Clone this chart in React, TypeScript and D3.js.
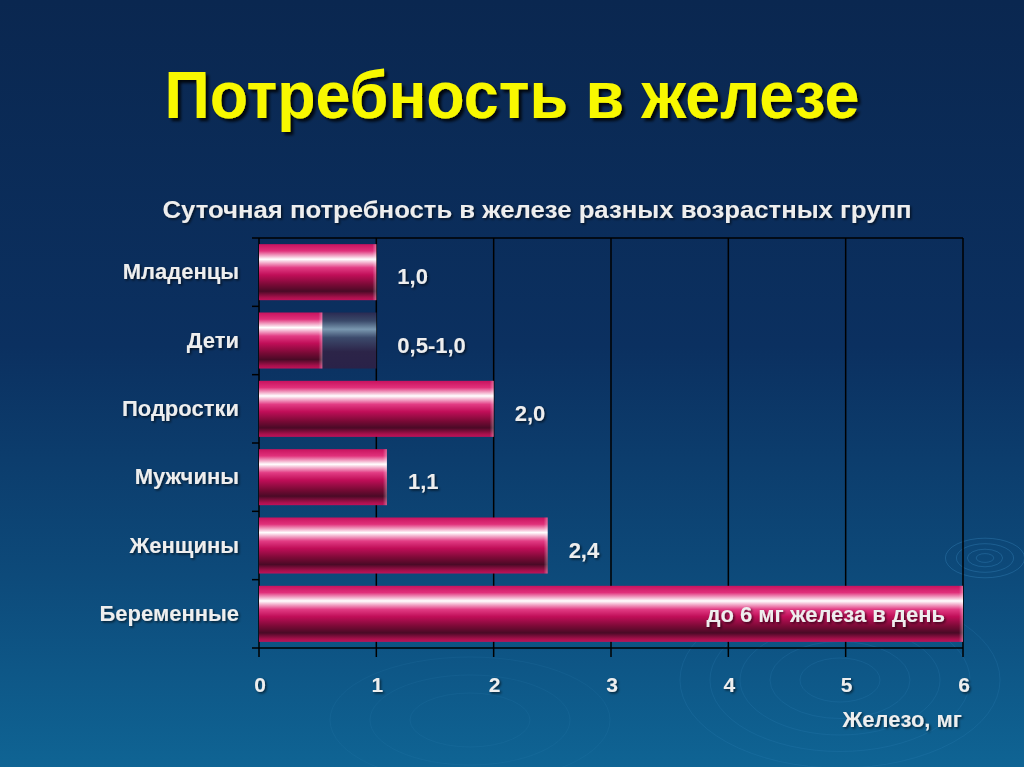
import React from "react";
import * as d3 from "d3";

const categories = ["Младенцы", "Дети", "Подростки", "Мужчины", "Женщины", "Беременные"];
const values = [1.0, 0.54, 2.0, 1.09, 2.46, 6];
const rangeEnds = [null, 1.0, null, null, null, null];
const valueLabels = ["1,0", "0,5-1,0", "2,0", "1,1", "2,4", "до 6 мг железа в день"];
const xTicks = [0, 1, 2, 3, 4, 5, 6];

const W = 1024;
const H = 767;
const left = 259;
const right = 963;
const top = 238;
const bottom = 648;

export default function App() {
  const x = d3.scaleLinear().domain([0, 6]).range([left, right]);
  const y = d3.scaleBand<string>().domain(categories).range([top, bottom]).paddingInner(0.18).paddingOuter(0.09);
  const step = y.step();
  const font = "'Liberation Sans', Arial, sans-serif";
  const labelColor = "#eeeeee";

  return (
    <svg width={W} height={H} style={{ position: "absolute", left: 0, top: 0 }} xmlns="http://www.w3.org/2000/svg">
      <defs>
        <linearGradient id="bg" x1="0" y1="0" x2="0" y2="1">
          <stop offset="0" stopColor="#0a2750" />
          <stop offset="0.45" stopColor="#0b3060" />
          <stop offset="0.75" stopColor="#0d4a7a" />
          <stop offset="1" stopColor="#0f6494" />
        </linearGradient>
        <linearGradient id="bar" x1="0" y1="0" x2="0" y2="1">
          <stop offset="0" stopColor="#c8125e" />
          <stop offset="0.12" stopColor="#e0307a" />
          <stop offset="0.27" stopColor="#ffffff" />
          <stop offset="0.42" stopColor="#e23c84" />
          <stop offset="0.55" stopColor="#c00e58" />
          <stop offset="0.72" stopColor="#7a0a36" />
          <stop offset="0.84" stopColor="#4a0a26" />
          <stop offset="0.95" stopColor="#a8104c" />
          <stop offset="1" stopColor="#c0125a" />
        </linearGradient>
        <linearGradient id="ghost" x1="0" y1="0" x2="0" y2="1">
          <stop offset="0" stopColor="#2a2a52" />
          <stop offset="0.15" stopColor="#3a4a6a" />
          <stop offset="0.3" stopColor="#7a98b0" />
          <stop offset="0.45" stopColor="#3c4a6c" />
          <stop offset="0.7" stopColor="#2c2448" />
          <stop offset="1" stopColor="#2a2248" />
        </linearGradient>
        <linearGradient id="endcap" x1="0" y1="0" x2="1" y2="0">
          <stop offset="0" stopColor="#ffffff" stopOpacity="0" />
          <stop offset="1" stopColor="#ffffff" stopOpacity="0.35" />
        </linearGradient>
        <filter id="shadow" x="-5%" y="-5%" width="115%" height="130%">
          <feDropShadow dx="3" dy="3" stdDeviation="1.5" floodColor="#000000" floodOpacity="0.85" />
        </filter>
        <filter id="tshadow" x="-5%" y="-20%" width="115%" height="150%">
          <feDropShadow dx="1.5" dy="1.5" stdDeviation="0.8" floodColor="#000000" floodOpacity="0.6" />
        </filter>
      </defs>

      <rect x={0} y={0} width={W} height={H} fill="url(#bg)" />

      {/* decorative ripples */}
      <g fill="none" stroke="#3a8ac0" strokeOpacity="0.35">
        {[8, 16, 26, 36].map((r) => (
          <ellipse key={"a" + r} cx={985} cy={558} rx={r * 1.1} ry={r * 0.55} />
        ))}
        {[40, 70, 100, 130, 160].map((r) => (
          <ellipse key={"b" + r} cx={840} cy={680} rx={r} ry={r * 0.55} strokeOpacity="0.18" />
        ))}
        {[60, 100, 140].map((r) => (
          <ellipse key={"c" + r} cx={470} cy={720} rx={r} ry={r * 0.45} strokeOpacity="0.12" />
        ))}
      </g>

      {/* Title */}
      <text
        x={512}
        y={118}
        textAnchor="middle"
        fill="#f8f800"
        fontFamily="'Liberation Sans Narrow', 'Arial Narrow', 'Liberation Sans', Arial, sans-serif"
        fontWeight="bold"
        fontSize={66}
        textLength={695}
        lengthAdjust="spacingAndGlyphs"
        filter="url(#shadow)"
      >
        Потребность в железе
      </text>

      {/* Subtitle */}
      <text
        x={537}
        y={218}
        textAnchor="middle"
        fill={labelColor}
        fontFamily={font}
        fontWeight="bold"
        fontSize={23}
        textLength={749}
        lengthAdjust="spacingAndGlyphs"
        filter="url(#tshadow)"
      >
        Суточная потребность в железе разных возрастных групп
      </text>

      {/* grid lines */}
      <g stroke="#000000" strokeWidth={1.5}>
        {xTicks.map((t) => (
          <line key={t} x1={x(t)} x2={x(t)} y1={top} y2={bottom + 9} />
        ))}
        <line x1={left} x2={right} y1={top} y2={top} />
        <line x1={left - 7} x2={right} y1={bottom} y2={bottom} />
        {categories.map((c, i) => (
          <line key={c} x1={left - 7} x2={left} y1={top + step * i} y2={top + step * i} />
        ))}
      </g>

      {/* bars */}
      {categories.map((c, i) => {
        const yy = y(c)!;
        const bh = y.bandwidth();
        const x0 = x(0);
        const x1 = x(values[i]);
        const re = rangeEnds[i];
        return (
          <g key={c}>
            {re !== null && (
              <rect x={x1} y={yy} width={x(re) - x1} height={bh} fill="url(#ghost)" />
            )}
            <rect x={x0} y={yy} width={x1 - x0} height={bh} fill="url(#bar)" />
            <rect x={x1 - 4} y={yy} width={4} height={bh} fill="url(#endcap)" />
          </g>
        );
      })}

      {/* category labels */}
      <g filter="url(#tshadow)">
        {categories.map((c) => (
          <text
            key={c}
            x={239}
            y={y(c)! + y.bandwidth() / 2 + 7}
            textAnchor="end"
            fill={labelColor}
            fontFamily={font}
            fontWeight="bold"
            fontSize={22}
          >
            {c}
          </text>
        ))}

        {/* value labels */}
        {categories.map((c, i) => {
          const end = rangeEnds[i] ?? values[i];
          const inside = i === categories.length - 1;
          return (
            <text
              key={c}
              x={inside ? x(end) - 18 : x(end) + 21}
              y={y(c)! + y.bandwidth() / 2 + (inside ? 8 : 12)}
              textAnchor={inside ? "end" : "start"}
              fill={labelColor}
              fontFamily={font}
              fontWeight="bold"
              fontSize={22}
            >
              {valueLabels[i]}
            </text>
          );
        })}

        {/* x tick labels */}
        {xTicks.map((t) => (
          <text key={t} x={x(t) + 1} y={692} textAnchor="middle" fill={labelColor} fontFamily={font} fontWeight="bold" fontSize={21}>
            {t}
          </text>
        ))}
        <text x={962} y={727} textAnchor="end" fill={labelColor} fontFamily={font} fontWeight="bold" fontSize={22}>
          Железо, мг
        </text>
      </g>
    </svg>
  );
}
